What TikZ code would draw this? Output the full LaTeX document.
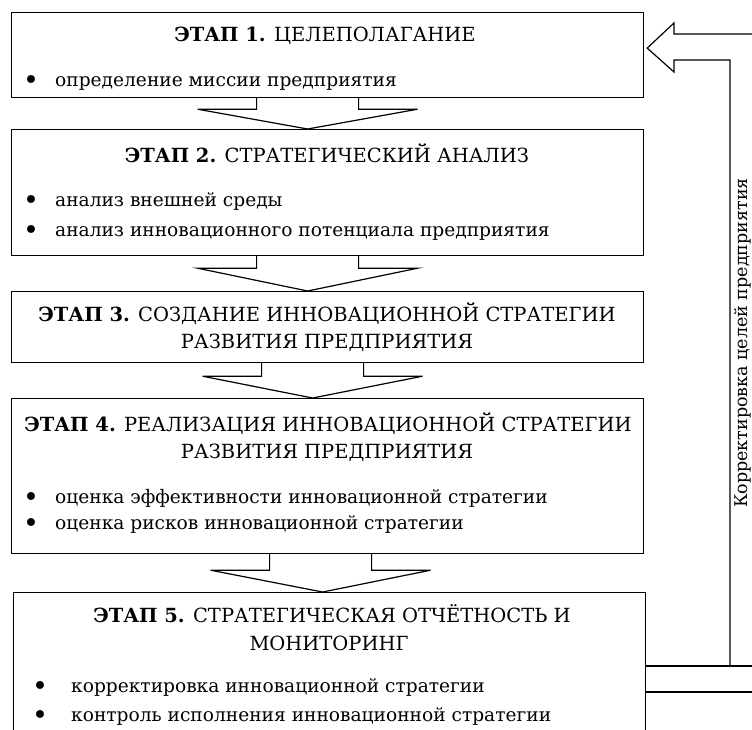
\documentclass[tikz,border=0pt]{standalone}
\usepackage{fontspec}
\setmainfont{DejaVu Serif}
\usepackage{tikz}
\usetikzlibrary{calc,positioning}

% wide hollow arrow between two stages: from, to, x shift, depth of the stem
\newcommand{\stagearrow}[4]{%
  \draw[fatarrow] ($(#1.south)+(#3-51,0)$) -- ++(0,#4) -- ++(-59,0)
    -- ($(#2.north)+(#3,0)$) -- ($(#1.south)+(#3+110,#4)$) -- ++(-59,0) -- ++(0,-#4);
}

\begin{document}
\begin{tikzpicture}[x=1pt,y=-1pt,
    stagebox/.style={draw, line width=1.2pt, minimum width=632pt, anchor=north west, inner sep=0pt},
    stagetitle/.style={anchor=base, inner sep=0pt, font=\fontsize{19.5}{27}\selectfont},
    stageitem/.style={anchor=base west, inner sep=0pt, font=\fontsize{18.6}{27}\selectfont},
    stagedot/.style={anchor=base, inner sep=0pt, text depth=0pt, font=\fontsize{27}{27}\selectfont},
    fatarrow/.style={draw, line width=1.2pt, line join=miter}]
    \useasboundingbox (0,0) rectangle (752,729);
    \clip (0,0) rectangle (752,729);

    % Stage boxes
    \node[stagebox, minimum height=85pt] (stage1) at (11,12) {};
    \node[stagebox, minimum height=126pt] (stage2) at (11,129) {};
    \node[stagebox, minimum height=71pt] (stage3) at (11,291) {};
    \node[stagebox, minimum height=155pt] (stage4) at (11,398) {};
    \node[stagebox, minimum height=170pt] (stage5) at (13,592) {};

    % Stage 1
    \node[stagetitle] (title1) at (325,41) {\textbf{ЭТАП 1.} ЦЕЛЕПОЛАГАНИЕ};
    \node[stagedot] (dot1a) at (31,89) {•};
    \node[stageitem] (item1a) at (55,86) {определение миссии предприятия};

    % Stage 2
    \node[stagetitle] (title2) at (327,162) {\textbf{ЭТАП 2.} СТРАТЕГИЧЕСКИЙ АНАЛИЗ};
    \node[stagedot] (dot2a) at (31,209) {•};
    \node[stageitem] (item2a) at (55,206) {анализ внешней среды};
    \node[stagedot] (dot2b) at (31,239) {•};
    \node[stageitem] (item2b) at (55,236) {анализ инновационного потенциала предприятия};

    % Stage 3
    \node[stagetitle] (title3a) at (327,321) {\textbf{ЭТАП 3.} СОЗДАНИЕ ИННОВАЦИОННОЙ СТРАТЕГИИ};
    \node[stagetitle] (title3b) at (327,348) {РАЗВИТИЯ ПРЕДПРИЯТИЯ};

    % Stage 4
    \node[stagetitle] (title4a) at (328,431) {\textbf{ЭТАП 4.} РЕАЛИЗАЦИЯ ИННОВАЦИОННОЙ СТРАТЕГИИ};
    \node[stagetitle] (title4b) at (327,458) {РАЗВИТИЯ ПРЕДПРИЯТИЯ};
    \node[stagedot] (dot4a) at (31,506) {•};
    \node[stageitem] (item4a) at (55,503) {оценка эффективности инновационной стратегии};
    \node[stagedot] (dot4b) at (31,532) {•};
    \node[stageitem] (item4b) at (55,529) {оценка рисков инновационной стратегии};

    % Stage 5
    \node[stagetitle] (title5a) at (332,622) {\textbf{ЭТАП 5.} СТРАТЕГИЧЕСКАЯ ОТЧЁТНОСТЬ И};
    \node[stagetitle] (title5b) at (329,650) {МОНИТОРИНГ};
    \node[stagedot] (dot5a) at (40,695) {•};
    \node[stageitem] (item5a) at (71,692) {корректировка инновационной стратегии};
    \node[stagedot] (dot5b) at (40,724) {•};
    \node[stageitem] (item5b) at (71,721) {контроль исполнения инновационной стратегии};

    % Arrows between stages
    \stagearrow{stage1}{stage2}{-20}{11}
    \stagearrow{stage2}{stage3}{-20}{12}
    \stagearrow{stage3}{stage4}{-15}{13}
    \stagearrow{stage4}{stage5}{-7}{16}

    % Feedback from stage 5 to stage 1
    \coordinate (fbout) at (770,666);
    \coordinate (fblow) at (770,692);
    \coordinate (fbtop) at (770,34);
    \draw[fatarrow] (stage5.east |- fblow) -- (fblow);
    \draw[fatarrow] (stage5.east |- fbout) -- (fbout);
    \draw[fatarrow] (730,666) -- (730,60) -- (674,60) -- (674,72)
        -- ($(stage1.east)+(3,-7)$) -- (674,23) -- (674,34) -- (fbtop);
    \node[rotate=90, anchor=base, inner sep=0pt, font=\fontsize{17.5}{27}\selectfont] (fblabel) at (747,343) {Корректировка целей предприятия};
\end{tikzpicture}
\end{document}
